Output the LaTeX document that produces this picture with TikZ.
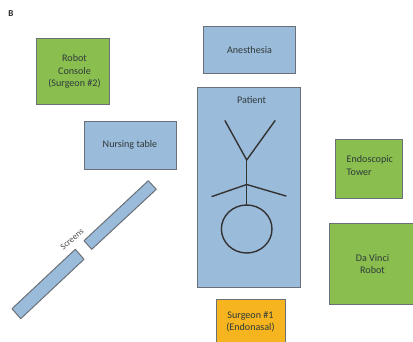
\documentclass[tikz,border=0pt]{standalone}
\usepackage{fontspec}
\setmainfont{Carlito}
\definecolor{boxblue}{HTML}{9BBBDA}
\definecolor{boxgreen}{HTML}{8ABF50}
\definecolor{boxorange}{HTML}{F6B41F}
\definecolor{edgegray}{HTML}{6A7078}
\definecolor{txt}{HTML}{2F3A3A}
\tikzset{
  box/.style={draw=edgegray,line width=1pt,inner sep=0pt,align=center,text=txt,font=\fontsize{10.1}{12.2}\selectfont,anchor=north west},
  bluebox/.style={box,fill=boxblue},
  greenbox/.style={box,fill=boxgreen},
  orangebox/.style={box,fill=boxorange},
  screenbar/.style={draw=edgegray,line width=1pt,fill=boxblue,line join=round},
  figureline/.style={draw=black!80,line width=1.4pt,line cap=round,line join=round}
}
\begin{document}
\begin{tikzpicture}[x=1pt,y=-1pt]
\useasboundingbox[fill=white] (0,0) rectangle (413,341);
\node[font=\bfseries\fontsize{9}{10}\selectfont,text=black!85,inner sep=0pt] (panel) at (11,14) {B};
\node[greenbox,minimum width=73pt,minimum height=66pt] (console) at (36,38) {\hspace*{3pt}Robot\\\hspace*{3pt}Console\\\hspace*{3pt}(Surgeon \#2)};
\node[bluebox,minimum width=92pt,minimum height=48pt] (nursing) at (84,120.5) {\hspace*{-1pt}Nursing table};
\node[bluebox,minimum width=92pt,minimum height=47pt] (anesthesia) at (203,26) {Anesthesia};
\node[bluebox,minimum width=103pt,minimum height=200pt] (patient) at (197,87) {};
\node[txt,font=\fontsize{10.1}{11}\selectfont,inner sep=0pt] (patientlabel) at (251.5,100) {Patient};
\node[greenbox,minimum width=67pt,minimum height=59pt] (tower) at (335,139) {};
\node[txt,font=\fontsize{10.1}{13.2}\selectfont,align=left,inner sep=0pt,anchor=west] (towerlabel) at (346.5,165.5) {Endoscopic\\Tower};
\node[greenbox,minimum width=90pt,minimum height=81pt] (davinci) at (329,223) {\hspace*{-4pt}Da Vinci\\\hspace*{-4pt}Robot};
\node[orangebox,minimum width=69pt,minimum height=48pt] (surgeon) at (216,299) {};
\node[txt,font=\fontsize{10.1}{12.2}\selectfont,align=center,inner sep=0pt] (surgeonlabel) at (250.5,321.5) {Surgeon \#1\\(Endonasal)};
% screens
\draw[screenbar] (148.3,180.7) -- (156.3,189.3) -- (91.7,249.3) -- (84,240.7) -- cycle;
\draw[screenbar] (75.3,249.3) -- (84,259.3) -- (20.7,318.7) -- (12,308.7) -- cycle;
\node[rotate=40,text=black!70,font=\fontsize{8.8}{10}\selectfont,inner sep=0pt] (screens) at (72,239) {Screens};
% patient figure
\coordinate (handL) at (225,120.7);
\coordinate (handR) at (275,120.7);
\coordinate (neck) at (246.7,160);
\coordinate (hip) at (246.7,205);
\coordinate (mid) at (246.7,184.5);
\coordinate (footL) at (212,196.5);
\coordinate (footR) at (286,196);
\draw[figureline] (handL) -- (neck) -- (handR);
\draw[figureline] (neck) -- (hip);
\draw[figureline] (footL) -- (mid) -- (footR);
\draw[figureline] (246.7,229) ellipse [x radius=25.3pt,y radius=24pt];
\end{tikzpicture}
\end{document}
